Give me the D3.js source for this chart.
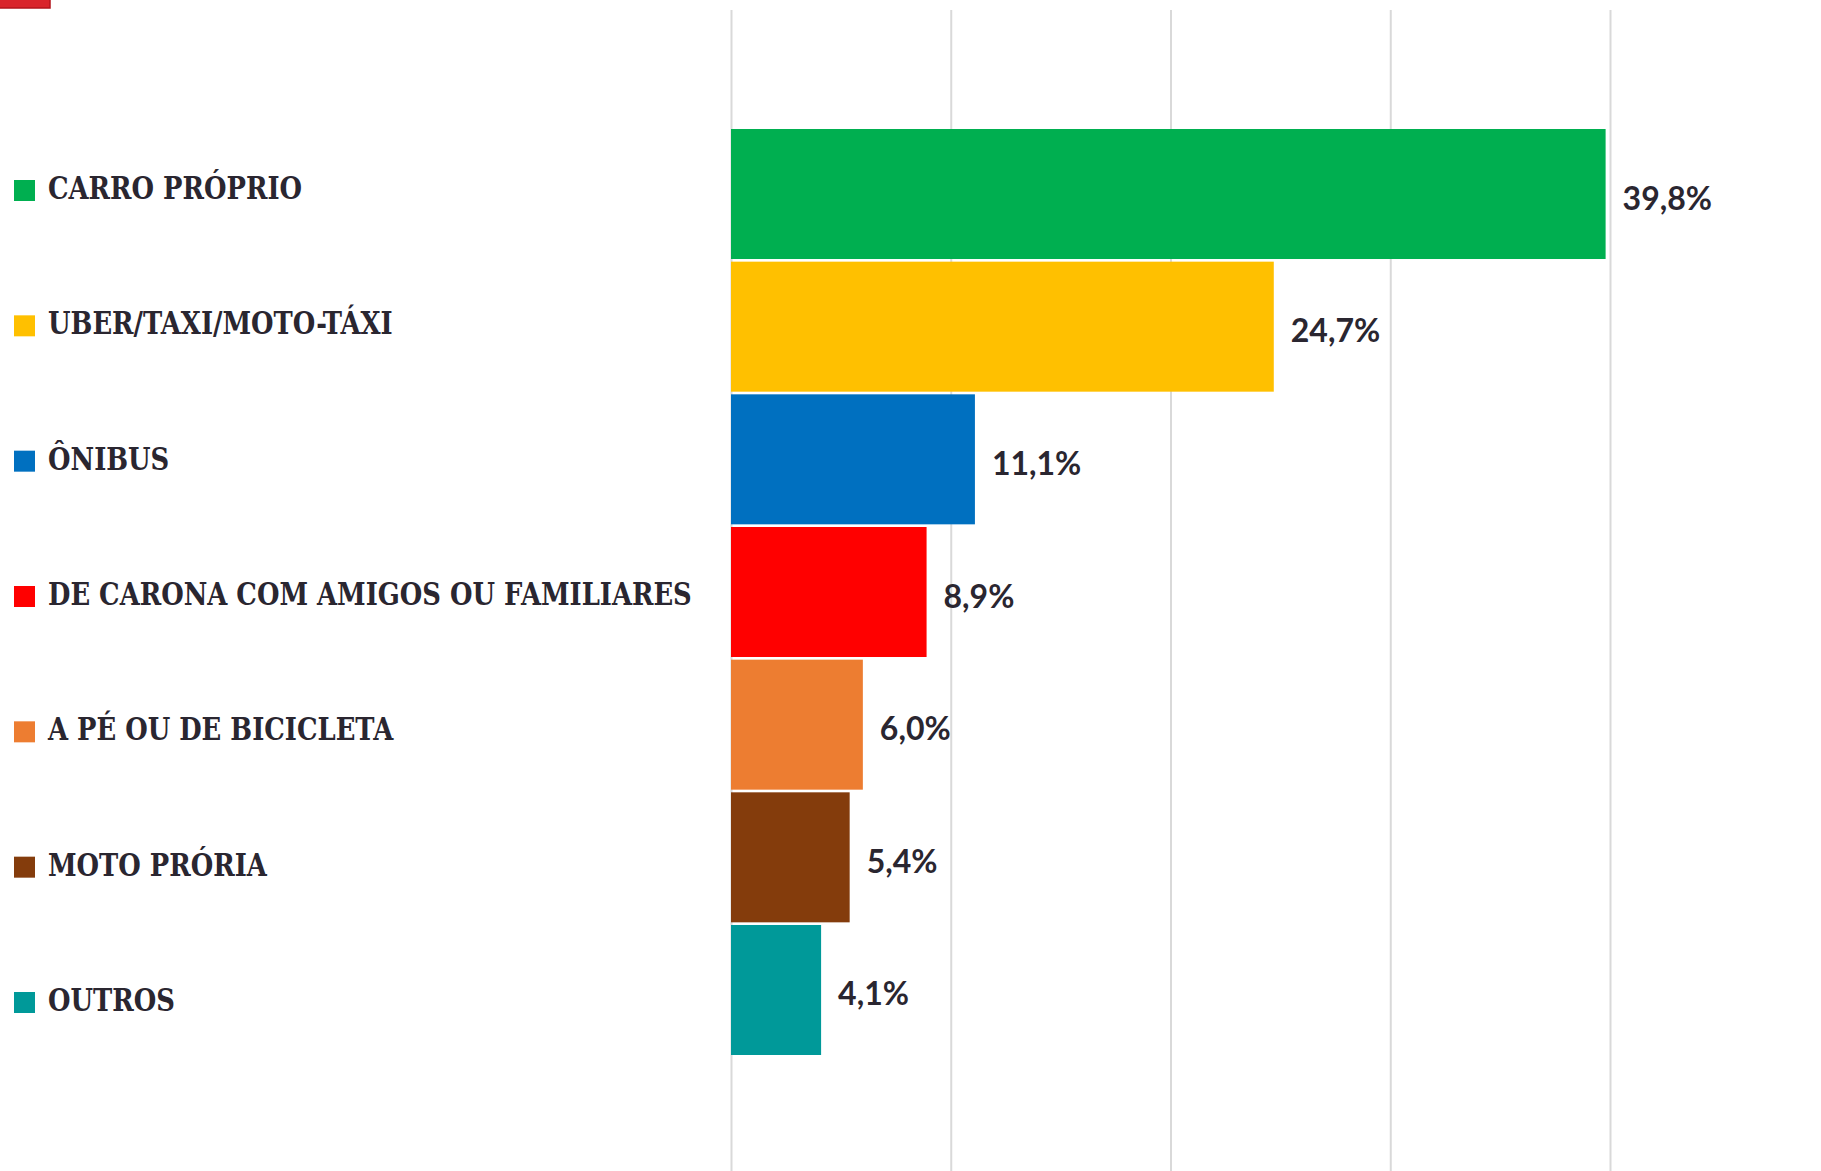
<!DOCTYPE html>
<html>
<head>
<meta charset="utf-8">
<script src="https://cdn.jsdelivr.net/npm/d3@7"></script>
<style>
  body { margin: 0; background: #fff; }
  svg { display: block; }
</style>
</head>
<body>
<script>
var W = 1821, H = 1171;

// data
var categories = ["CARRO PRÓPRIO", "UBER/TAXI/MOTO-TÁXI", "ÔNIBUS", "DE CARONA COM AMIGOS OU FAMILIARES",
                  "A PÉ OU DE BICICLETA", "MOTO PRÓRIA", "OUTROS"];
var values = [39.8, 24.7, 11.1, 8.9, 6.0, 5.4, 4.1];
var colors = ["#00af50", "#ffc000", "#0070c0", "#ff0000", "#ed7d31", "#843c0c", "#009999"];
var ticks = [0, 10, 20, 30, 40];

var data = categories.map(function(c, i) { return { cat: c, val: values[i], color: colors[i] }; });

var svg = d3.select("body").append("svg")
    .attr("width", W)
    .attr("height", H);

svg.append("rect").attr("width", W).attr("height", H).attr("fill", "#fff");

// little red tab top-left
svg.append("rect")
    .attr("x", -2).attr("y", -2)
    .attr("width", 52).attr("height", 10)
    .attr("fill", "#d9242b")
    .attr("stroke", "#b3151c").attr("stroke-width", 1.5);

var x = d3.scaleLinear().domain([0, 40]).range([731, 1610]);
var y = d3.scaleBand().domain(categories).range([129, 1055]).paddingInner(0.02).paddingOuter(0);
var yLab = d3.scalePoint().domain(categories).range([188, 1000]);

// gridlines
var grid = svg.append("g")
    .attr("transform", "translate(0,10)")
    .call(d3.axisBottom(x).tickValues(ticks).tickSize(H - 10).tickFormat(""));
grid.select(".domain").remove();
grid.selectAll(".tick line").attr("stroke", "#d9d9d9").attr("stroke-width", 2);

// bars
svg.append("g").selectAll("rect")
    .data(data)
  .enter().append("rect")
    .attr("x", x(0))
    .attr("y", function(d) { return y(d.cat); })
    .attr("width", function(d) { return x(d.val) - x(0); })
    .attr("height", y.bandwidth())
    .attr("fill", function(d) { return d.color; });

// value labels
var fmt = function(v) { return d3.format(".1f")(v).replace(".", ",") + "%"; };
var vals = svg.append("g").selectAll("text")
    .data(data)
  .enter().append("text")
    .attr("x", function(d) { return x(d.val) + 17; })
    .attr("y", function(d) { return y(d.cat) + y.bandwidth() / 2 + 3; })
    .attr("dominant-baseline", "central")
    .style("font-family", "Lato, 'Open Sans', sans-serif")
    .style("font-weight", "bold")
    .style("font-size", "32px")
    .style("fill", "#2a2630")
    .text(function(d) { return fmt(d.val); });

// legend-like category labels on the left
var leg = svg.append("g");
leg.selectAll("rect")
    .data(data)
  .enter().append("rect")
    .attr("x", 14)
    .attr("y", function(d) { return yLab(d.cat) - 8; })
    .attr("width", 21).attr("height", 21)
    .attr("fill", function(d) { return d.color; });

var labs = leg.append("g").attr("class", "labs");
labs.selectAll("text")
    .data(data)
  .enter().append("text")
    .attr("x", 0)
    .attr("y", function(d) { return yLab(d.cat); })
    .attr("dominant-baseline", "central")
    .style("font-family", "'DejaVu Serif', serif")
    .style("font-weight", "bold")
    .style("font-size", "31px")
    .style("fill", "#2a2630")
    .text(function(d) { return d.cat; });

// squeeze the slab-serif labels so the longest one spans ~644px like the original
var longest = d3.max(labs.selectAll("text").nodes(), function(n) { return n.getComputedTextLength(); });
var sx = 644 / longest;
labs.attr("transform", "translate(48,0) scale(" + sx + ",1)");
</script>
</body>
</html>
